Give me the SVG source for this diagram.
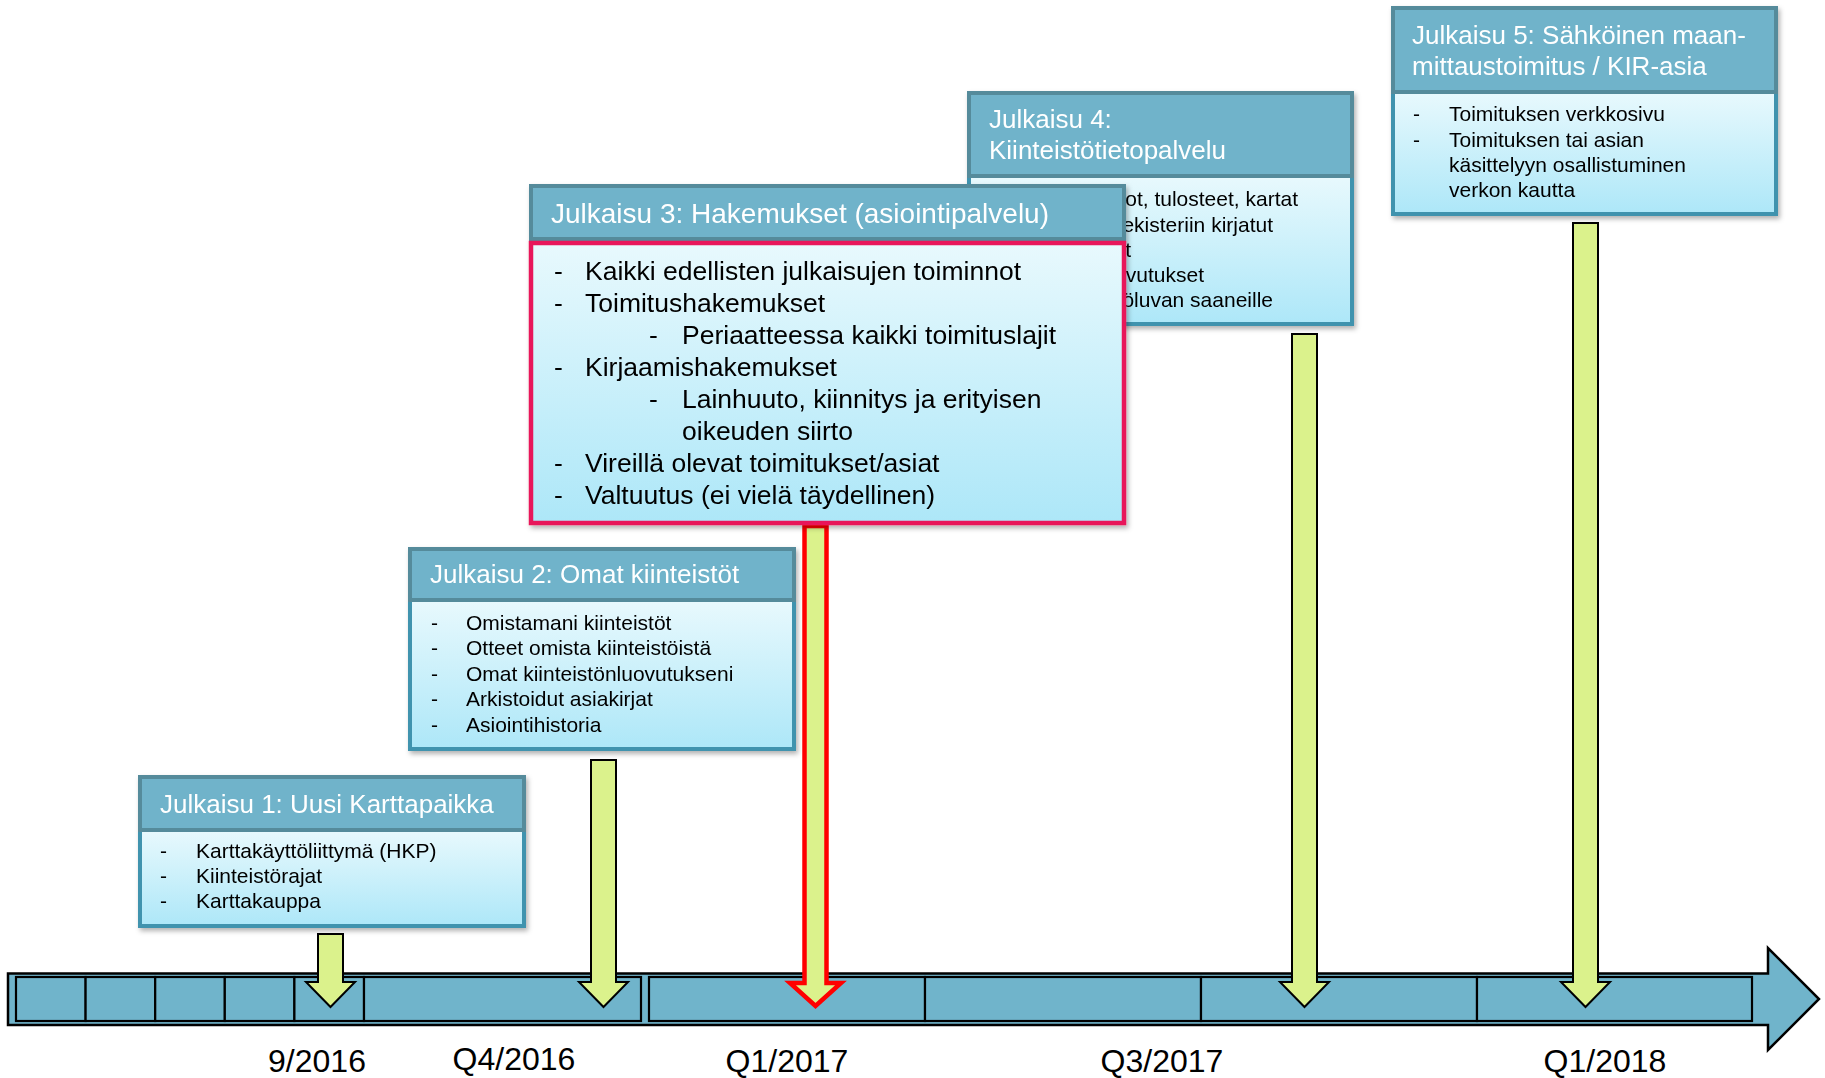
<svg xmlns="http://www.w3.org/2000/svg" width="1825" height="1078" viewBox="0 0 1825 1078">
<defs>
<linearGradient id="bodyGrad" x1="0" y1="0" x2="0" y2="1">
<stop offset="0" stop-color="#E8F9FD"/>
<stop offset="1" stop-color="#ADE7F8"/>
</linearGradient>
<filter id="shadow" x="-5%" y="-5%" width="110%" height="115%">
<feDropShadow dx="2" dy="3" stdDeviation="2.5" flood-color="#000" flood-opacity="0.3"/>
</filter>
<style>
.hdr{fill:#6FB3CA;stroke:#558B9B;stroke-width:4}
.body{fill:url(#bodyGrad);stroke:#3F93AE;stroke-width:4}
.body3{fill:url(#bodyGrad);stroke:#E8195A;stroke-width:4.5}
.ht{font-family:"Liberation Sans",Arial,sans-serif;font-size:26px;fill:#FFFFFF}
.ht3{font-family:"Liberation Sans",Arial,sans-serif;font-size:28px;fill:#FFFFFF}
.bt{font-family:"Liberation Sans",Arial,sans-serif;font-size:21px;fill:#000000}
.bt3{font-family:"Liberation Sans",Arial,sans-serif;font-size:26.5px;fill:#000000}
.lbl{font-family:"Liberation Sans",Arial,sans-serif;font-size:32px;fill:#000000;text-anchor:middle}
.tl{fill:#70B4CB;stroke:#000;stroke-width:2.5}
.cell{fill:#70B4CB;stroke:#000;stroke-width:2.2}
.garrow{fill:#DBF28C;stroke:#000;stroke-width:2}
.rarrow{fill:#DBF28C;stroke:#FF0000;stroke-width:4.5}
</style>
</defs>
<rect width="1825" height="1078" fill="#FFFFFF"/>

<g id="timeline">
<polygon class="tl" points="8,973.5 1768,973.5 1768,948 1819,999 1768,1050 1768,1025 8,1025"/>
<rect class="cell" x="16" y="977" width="69.6" height="44"/>
<rect class="cell" x="85.6" y="977" width="69.6" height="44"/>
<rect class="cell" x="155.2" y="977" width="69.6" height="44"/>
<rect class="cell" x="224.8" y="977" width="69.6" height="44"/>
<rect class="cell" x="294.4" y="977" width="69.6" height="44"/>
<rect class="cell" x="364" y="977" width="277" height="44"/>
<rect class="cell" x="649" y="977" width="276" height="44"/>
<rect class="cell" x="925" y="977" width="276" height="44"/>
<rect class="cell" x="1201" y="977" width="276" height="44"/>
<rect class="cell" x="1477" y="977" width="275" height="44"/>
<text class="lbl" x="317" y="1072">9/2016</text>
<text class="lbl" x="514" y="1070">Q4/2016</text>
<text class="lbl" x="787" y="1072">Q1/2017</text>
<text class="lbl" x="1162" y="1072">Q3/2017</text>
<text class="lbl" x="1605" y="1072">Q1/2018</text>
</g>

<g id="connectors">
<polygon class="garrow" points="318,934 343,934 343,982 355,982 330.5,1007 306,982 318,982"/>
<polygon class="garrow" points="591,760 616,760 616,982 628,982 603.5,1007 579,982 591,982"/>
<polygon class="rarrow" points="804.5,526 826.5,526 826.5,983 841,983 815.5,1006 790,983 804.5,983"/>
<polygon class="garrow" points="1292,334 1317,334 1317,982 1329,982 1304.5,1007 1280,982 1292,982"/>
<polygon class="garrow" points="1573,223 1598,223 1598,982 1610,982 1585.5,1007 1561,982 1573,982"/>
</g>

<g id="julkaisu1" filter="url(#shadow)">
<rect class="body" x="140" y="830" width="384" height="96"/>
<rect class="hdr" x="140" y="777" width="384" height="53"/>
<text class="ht" x="160" y="813">Julkaisu 1: Uusi Karttapaikka</text>
<text class="bt" x="160" y="858">-</text><text class="bt" x="196" y="858">Karttakäyttöliittymä (HKP)</text>
<text class="bt" x="160" y="883">-</text><text class="bt" x="196" y="883">Kiinteistörajat</text>
<text class="bt" x="160" y="908">-</text><text class="bt" x="196" y="908">Karttakauppa</text>
</g>

<g id="julkaisu2" filter="url(#shadow)">
<rect class="body" x="410" y="600" width="384" height="149"/>
<rect class="hdr" x="410" y="549" width="384" height="51"/>
<text class="ht" x="430" y="583">Julkaisu 2: Omat kiinteistöt</text>
<text class="bt" x="431" y="630">-</text><text class="bt" x="466" y="630">Omistamani kiinteistöt</text>
<text class="bt" x="431" y="655">-</text><text class="bt" x="466" y="655">Otteet omista kiinteistöistä</text>
<text class="bt" x="431" y="681">-</text><text class="bt" x="466" y="681">Omat kiinteistönluovutukseni</text>
<text class="bt" x="431" y="706">-</text><text class="bt" x="466" y="706">Arkistoidut asiakirjat</text>
<text class="bt" x="431" y="732">-</text><text class="bt" x="466" y="732">Asiointihistoria</text>
</g>

<g id="julkaisu5" filter="url(#shadow)">
<rect class="body" x="1393" y="92" width="383" height="122"/>
<rect class="hdr" x="1393" y="8" width="383" height="84"/>
<text class="ht" x="1412" y="44">Julkaisu 5: Sähköinen maan-</text>
<text class="ht" x="1412" y="75">mittaustoimitus / KIR-asia</text>
<text class="bt" x="1413" y="121">-</text><text class="bt" x="1449" y="121">Toimituksen verkkosivu</text>
<text class="bt" x="1413" y="147">-</text><text class="bt" x="1449" y="147">Toimituksen tai asian</text>
<text class="bt" x="1449" y="172">käsittelyyn osallistuminen</text>
<text class="bt" x="1449" y="197">verkon kautta</text>
</g>

<g id="julkaisu4" filter="url(#shadow)">
<rect class="body" x="969" y="176" width="383" height="148"/>
<rect class="hdr" x="969" y="93" width="383" height="83"/>
<text class="ht" x="989" y="128">Julkaisu 4:</text>
<text class="ht" x="989" y="159">Kiinteistötietopalvelu</text>
<text class="bt" x="1298" y="206" text-anchor="end">ot, tulosteet, kartat</text>
<text class="bt" x="1273" y="232" text-anchor="end">ekisteriin kirjatut</text>
<text class="bt" x="1131" y="257" text-anchor="end">t</text>
<text class="bt" x="1204" y="282" text-anchor="end">vutukset</text>
<text class="bt" x="1273" y="307" text-anchor="end">öluvan saaneille</text>
</g>

<g id="julkaisu3" filter="url(#shadow)">
<rect class="hdr" x="531" y="186" width="593" height="53"/>
<text class="ht3" x="551" y="223">Julkaisu 3: Hakemukset (asiointipalvelu)</text>
<rect class="body3" x="531" y="243" width="593" height="280"/>
<text class="bt3" x="554" y="280">-</text><text class="bt3" x="585" y="280">Kaikki edellisten julkaisujen toiminnot</text>
<text class="bt3" x="554" y="312">-</text><text class="bt3" x="585" y="312">Toimitushakemukset</text>
<text class="bt3" x="649" y="344">-</text><text class="bt3" x="682" y="344">Periaatteessa kaikki toimituslajit</text>
<text class="bt3" x="554" y="376">-</text><text class="bt3" x="585" y="376">Kirjaamishakemukset</text>
<text class="bt3" x="649" y="408">-</text><text class="bt3" x="682" y="408">Lainhuuto, kiinnitys ja erityisen</text>
<text class="bt3" x="682" y="440">oikeuden siirto</text>
<text class="bt3" x="554" y="472">-</text><text class="bt3" x="585" y="472">Vireillä olevat toimitukset/asiat</text>
<text class="bt3" x="554" y="504">-</text><text class="bt3" x="585" y="504">Valtuutus (ei vielä täydellinen)</text>
</g>
</svg>
